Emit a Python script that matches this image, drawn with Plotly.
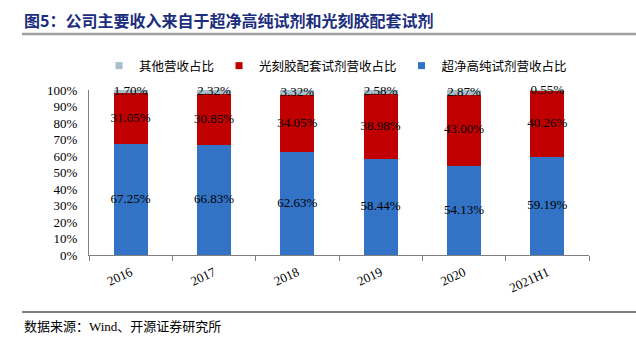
import plotly.graph_objects as go

categories = ["2016", "2017", "2018", "2019", "2020", "2021H1"]
ultra_pure = [67.25, 66.83, 62.63, 58.44, 54.13, 59.19]
photoresist = [31.05, 30.85, 34.05, 38.98, 43.00, 40.26]
others = [1.70, 2.32, 3.32, 2.58, 2.87, 0.55]

names = ["超净高纯试剂营收占比", "光刻胶配套试剂营收占比", "其他营收占比"]
colors = ["#3273C5", "#C00000", "#A7BFCB"]
series = [ultra_pure, photoresist, others]

SERIF = "Liberation Serif, Times New Roman, Noto Sans CJK SC"

fig = go.Figure()
base = [0.0] * len(categories)
for name, col, vals in zip(names, colors, series):
    fig.add_trace(go.Bar(
        x=categories, y=[v / 100 for v in vals], name=name,
        marker=dict(color=col, line=dict(width=0)),
        width=0.41, showlegend=False, hoverinfo="skip",
    ))
    mids = [(b + v / 2) / 100 for b, v in zip(base, vals)]
    fig.add_trace(go.Scatter(
        x=categories, y=mids, mode="text",
        text=[f"{v:.2f}%" for v in vals],
        textposition="middle center",
        textfont=dict(family=SERIF, size=13, color="#000000"),
        showlegend=False, hoverinfo="skip", cliponaxis=False,
    ))
    base = [b + v for b, v in zip(base, vals)]

# legend entries (small square markers), order: others, photoresist, ultra pure
for name, col in zip(names[::-1], colors[::-1]):
    fig.add_trace(go.Scatter(
        x=[None], y=[None], mode="markers", name=name,
        marker=dict(symbol="square", size=7, color=col),
        showlegend=True,
    ))

L, R, T, B = 89, 47, 90, 87
W, H = 636, 342
pw, ph = W - L - R, H - T - B

def px(xp):
    return (xp - L) / pw

def py(yp):
    return (H - B - yp) / ph

fig.update_layout(
    width=W, height=H,
    margin=dict(l=L, r=R, t=T, b=B, pad=0),
    paper_bgcolor="white", plot_bgcolor="white",
    barmode="stack",
    font=dict(family=SERIF, size=13, color="#000000"),
    legend=dict(
        orientation="h", x=px(99), xanchor="left", y=py(66), yanchor="middle",
        font=dict(family=SERIF, size=12.5, color="#000000"),
        traceorder="normal", bgcolor="rgba(0,0,0,0)",
        itemwidth=30,
    ),
    xaxis=dict(
        type="category", tickangle=-25,
        showline=True, linecolor="#7F7F7F", linewidth=1,
        ticks="outside", tickson="boundaries", ticklen=5, tickcolor="#7F7F7F",
        tickfont=dict(family=SERIF, size=13),
        ticklabelstandoff=4,
        showgrid=False, zeroline=False,
    ),
    yaxis=dict(
        range=[0, 1], dtick=0.1, tickformat=".0%",
        showline=True, linecolor="#7F7F7F", linewidth=1,
        ticks="", ticklabelstandoff=8,
        tickfont=dict(family=SERIF, size=13),
        showgrid=False, zeroline=False,
    ),
    annotations=[
        dict(text="<b>图5：公司主要收入来自于超净高纯试剂和光刻胶配套试剂</b>",
             xref="paper", yref="paper", x=px(22), y=py(20),
             xanchor="left", yanchor="middle", showarrow=False,
             font=dict(family="Noto Sans CJK SC", size=16, color="#1B2E7E")),
        dict(text="数据来源：Wind、开源证券研究所",
             xref="paper", yref="paper", x=px(22), y=py(326),
             xanchor="left", yanchor="middle", showarrow=False,
             font=dict(family=SERIF, size=13, color="#000000")),
    ],
    shapes=[
        dict(type="line", xref="paper", yref="paper",
             x0=px(22), x1=px(636), y0=py(34), y1=py(34),
             line=dict(color="#A0A0A0", width=2.5)),
        dict(type="line", xref="paper", yref="paper",
             x0=px(22), x1=px(636), y0=py(312), y1=py(312),
             line=dict(color="#000000", width=1)),
    ],
)

fig.write_html("out.html")
